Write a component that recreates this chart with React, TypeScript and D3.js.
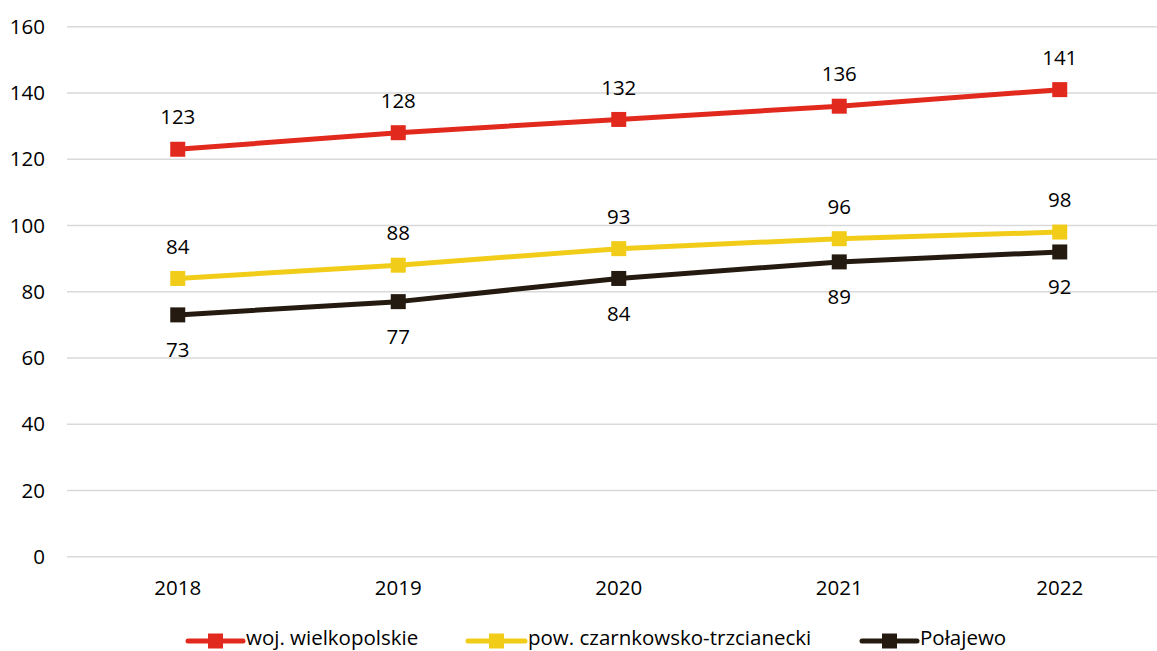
import React from "react";
import * as d3 from "d3";

const years = ["2018", "2019", "2020", "2021", "2022"];
const wojValues = [123, 128, 132, 136, 141];
const powValues = [84, 88, 93, 96, 98];
const polValues = [73, 77, 84, 89, 92];
const yTicks = [0, 20, 40, 60, 80, 100, 120, 140, 160];

const seriesNames = ["woj. wielkopolskie", "pow. czarnkowsko-trzcianecki", "Połajewo"];

const W = 1157;
const H = 651;
const FONT = "'Open Sans', 'Noto Sans', sans-serif";
const FS = 20.5;

export default function App() {
  const x = d3.scalePoint<string>().domain(years).range([67.5, 1170]).padding(0.5);
  const y = d3.scaleLinear().domain([0, 160]).range([556.7, 26.7]);
  const line = d3
    .line<number>()
    .x((_, i) => x(years[i]) as number)
    .y((d) => y(d));

  const series = [
    { name: seriesNames[0], values: wojValues, color: "#E12A1D", labelDy: -32 },
    { name: seriesNames[1], values: powValues, color: "#F1CD1A", labelDy: -32 },
    { name: seriesNames[2], values: polValues, color: "#251A10", labelDy: 35 },
  ];

  const legend = [
    { x0: 188, x1: 243, tx: 246 },
    { x0: 468, x1: 525, tx: 528 },
    { x0: 862, x1: 917, tx: 920 },
  ];

  return (
    <svg width={W} height={H} style={{ position: "absolute", left: 0, top: 0, background: "#fff" }} fontFamily={FONT}>
      {yTicks.map((t) => (
        <g key={t}>
          <line x1={67} x2={1170} y1={y(t)} y2={y(t)} stroke="#D9D9D9" strokeWidth={1.5} />
          <text x={45} y={y(t)} dy="0.35em" textAnchor="end" fontSize={FS} fill="#000">
            {t}
          </text>
        </g>
      ))}
      {years.map((yr) => (
        <text key={yr} x={x(yr)} y={588} dy="0.35em" textAnchor="middle" fontSize={FS} fill="#000">
          {yr}
        </text>
      ))}
      {series.map((s) => (
        <g key={s.name}>
          <path d={line(s.values) || ""} fill="none" stroke={s.color} strokeWidth={5} strokeLinejoin="round" />
          {s.values.map((v, i) => (
            <rect
              key={i}
              x={(x(years[i]) as number) - 7.5}
              y={y(v) - 7.5}
              width={15}
              height={15}
              fill={s.color}
            />
          ))}
          {s.values.map((v, i) => (
            <text
              key={"l" + i}
              x={x(years[i])}
              y={y(v) + s.labelDy}
              dy="0.35em"
              textAnchor="middle"
              fontSize={FS}
              fill="#000"
            >
              {v}
            </text>
          ))}
        </g>
      ))}
      {series.map((s, i) => {
        const L = legend[i];
        const cy = 641;
        const cx = (L.x0 + L.x1) / 2;
        return (
          <g key={"lg" + i}>
            <line x1={L.x0} x2={L.x1} y1={cy} y2={cy} stroke={s.color} strokeWidth={5} strokeLinecap="round" />
            <rect x={cx - 7.5} y={cy - 7.5} width={15} height={15} fill={s.color} />
            <text x={L.tx} y={645} fontSize={FS} fill="#000">
              {s.name}
            </text>
          </g>
        );
      })}
    </svg>
  );
}
